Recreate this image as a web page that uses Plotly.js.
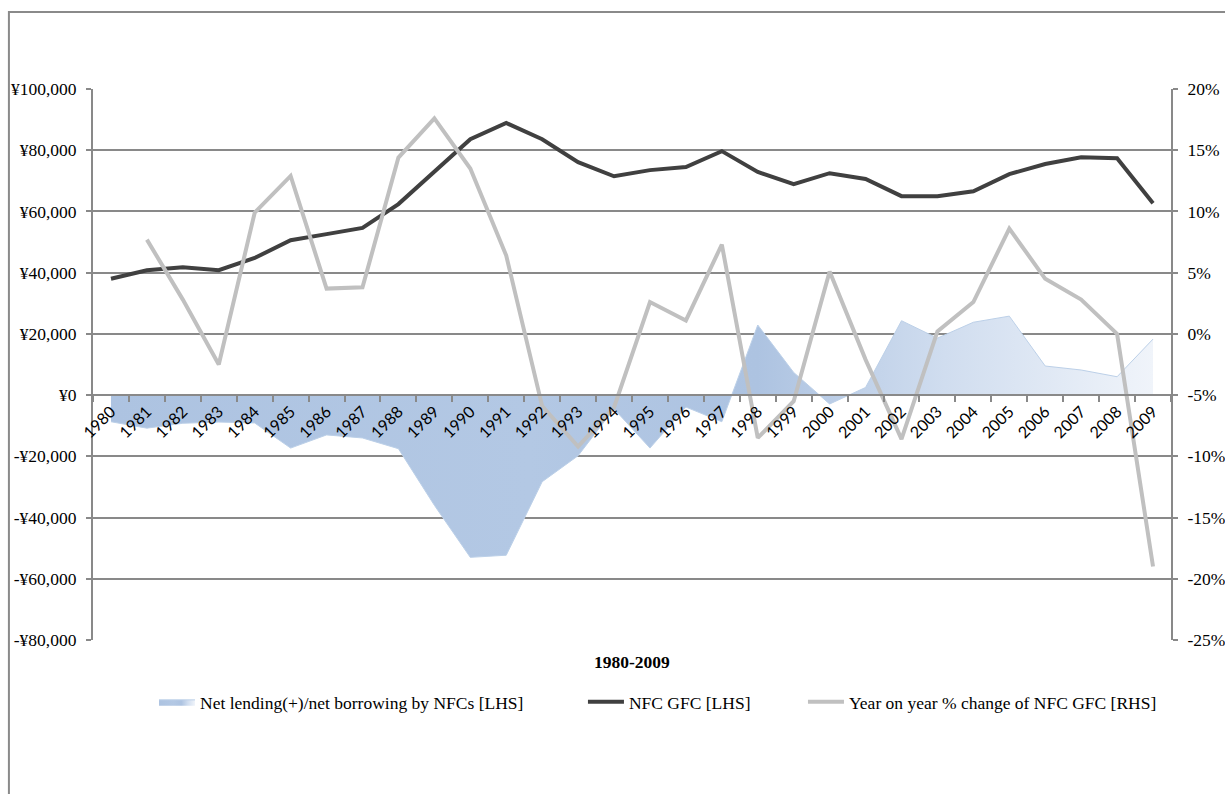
<!DOCTYPE html>
<html>
<head>
<meta charset="utf-8">
<script src="https://cdn.plot.ly/plotly-3.0.1.min.js"></script>
<style>html,body{margin:0;padding:0;background:#fff;}#chart{width:1225px;height:794px;}</style>
</head>
<body>
<div id="chart"></div>
<script>
const years = ['1980','1981','1982','1983','1984','1985','1986','1987','1988','1989','1990','1991','1992','1993','1994','1995','1996','1997','1998','1999','2000','2001','2002','2003','2004','2005','2006','2007','2008','2009'];
const netLending = [-8700,-10800,-9200,-8800,-9100,-17300,-13000,-14000,-17500,-36000,-53000,-52300,-28300,-19800,-4500,-17300,-3900,-8700,22900,7400,-2900,2500,24300,18600,23800,25800,9500,8200,6000,18300];
const nfcGfc = [38000,40800,41800,40800,44800,50600,52600,54600,62400,72900,83600,88900,83600,76100,71500,73500,74500,79700,72900,68900,72500,70600,65000,65000,66600,72200,75500,77700,77400,62700];
const yoyChange = [null,7.7,2.8,-2.5,9.9,12.9,3.7,3.8,14.4,17.6,13.5,6.4,-5.9,-9.2,-6.0,2.6,1.1,7.3,-8.5,-5.5,5.1,-2.1,-8.6,0.2,2.6,8.6,4.5,2.8,0.0,-19.0];
const leftTickVals = [-80000,-60000,-40000,-20000,0,20000,40000,60000,80000,100000];
const leftTickText = ['-¥80,000','-¥60,000','-¥40,000','-¥20,000','¥0','¥20,000','¥40,000','¥60,000','¥80,000','¥100,000'];
const rightTickVals = [-25,-20,-15,-10,-5,0,5,10,15,20];
const rightTickText = ['-25%','-20%','-15%','-10%','-5%','0%','5%','10%','15%','20%'];
const seriesNames = ['Net lending(+)/net borrowing by NFCs [LHS]','NFC GFC [LHS]','Year on year % change of NFC GFC [RHS]'];
const xTitle = '1980-2009';

const serif = '"Liberation Serif", "Times New Roman", Times, serif';
const sans = 'Lato, "Liberation Sans", sans-serif';
const gridCol = '#898989';
const fs = 17.5;

const traces = [
  {
    x: years, y: netLending, name: seriesNames[0], type: 'scatter', mode: 'lines',
    fill: 'tozeroy',
    fillgradient: {type: 'horizontal', colorscale: [[0,'#adc3e1'],[0.4,'#b3c8e4'],[0.62,'#adc3e1'],[0.8,'#d0ddef'],[1,'#f0f4fa']]},
    line: {color: '#bcd0e8', width: 1},
    yaxis: 'y', legend: 'legend', hoverinfo: 'skip'
  },
  {
    x: years, y: nfcGfc, name: seriesNames[1], type: 'scatter', mode: 'lines',
    line: {color: '#404040', width: 4}, yaxis: 'y', legend: 'legend2'
  },
  {
    x: years, y: yoyChange, name: seriesNames[2], type: 'scatter', mode: 'lines',
    line: {color: '#c0c0c0', width: 4}, yaxis: 'y2', connectgaps: false, legend: 'legend3'
  }
];

const legendBase = {
  orientation: 'h', xanchor: 'left', y: -0.1125, yanchor: 'middle',
  font: {family: serif, size: fs, color: '#000'},
  itemwidth: 36,
  bgcolor: 'rgba(0,0,0,0)', borderwidth: 0
};

const layout = {
  width: 1225, height: 794,
  paper_bgcolor: '#ffffff', plot_bgcolor: '#ffffff',
  margin: {l: 93, r: 54, t: 89, b: 154},
  showlegend: true,
  font: {family: serif, size: fs, color: '#000'},
  xaxis: {
    type: 'category', categoryorder: 'array', categoryarray: years,
    range: [-0.5, 29.5],
    anchor: 'free', position: 80000/180000,
    showline: true, linecolor: gridCol, linewidth: 2,
    showgrid: false, zeroline: false,
    ticks: 'outside', tickson: 'boundaries', ticklen: 6, tickcolor: gridCol, tickwidth: 2,
    tickangle: -45,
    tickfont: {family: sans, size: 16, color: '#000'}
  },
  yaxis: {
    range: [-80000, 100000],
    tickvals: leftTickVals, ticktext: leftTickText,
    showline: true, linecolor: gridCol, linewidth: 2,
    showgrid: true, gridcolor: gridCol, gridwidth: 2,
    zeroline: false,
    ticks: 'outside', ticklen: 5, tickcolor: gridCol, tickwidth: 2,
    ticklabelstandoff: 6,
    tickfont: {family: serif, size: fs, color: '#000'}
  },
  yaxis2: {
    range: [-25, 20], overlaying: 'y', side: 'right', anchor: 'x',
    tickvals: rightTickVals, ticktext: rightTickText,
    showline: true, linecolor: gridCol, linewidth: 2,
    showgrid: false, zeroline: false,
    ticks: 'outside', ticklen: 5, tickcolor: gridCol, tickwidth: 2,
    ticklabelstandoff: 6,
    tickfont: {family: serif, size: fs, color: '#000'}
  },
  legend: Object.assign({}, legendBase, {x: 0.0566}),
  legend2: Object.assign({}, legendBase, {x: 0.4545}),
  legend3: Object.assign({}, legendBase, {x: 0.6586}),
  annotations: [
    {text: '<b>' + xTitle + '</b>', xref: 'paper', yref: 'paper', x: 0.5, y: -0.04,
     xanchor: 'center', yanchor: 'middle', showarrow: false,
     font: {family: serif, size: fs, color: '#000'}}
  ],
  shapes: [
    {type: 'rect', xref: 'paper', yref: 'paper', x0: -0.078, x1: 1.2, y0: -0.6, y1: 1.1397,
     line: {color: '#8a8a8a', width: 2}, fillcolor: 'rgba(0,0,0,0)', layer: 'below'}
  ]
};

Plotly.newPlot('chart', traces, layout, {displayModeBar: false, staticPlot: true});
</script>
</body>
</html>
